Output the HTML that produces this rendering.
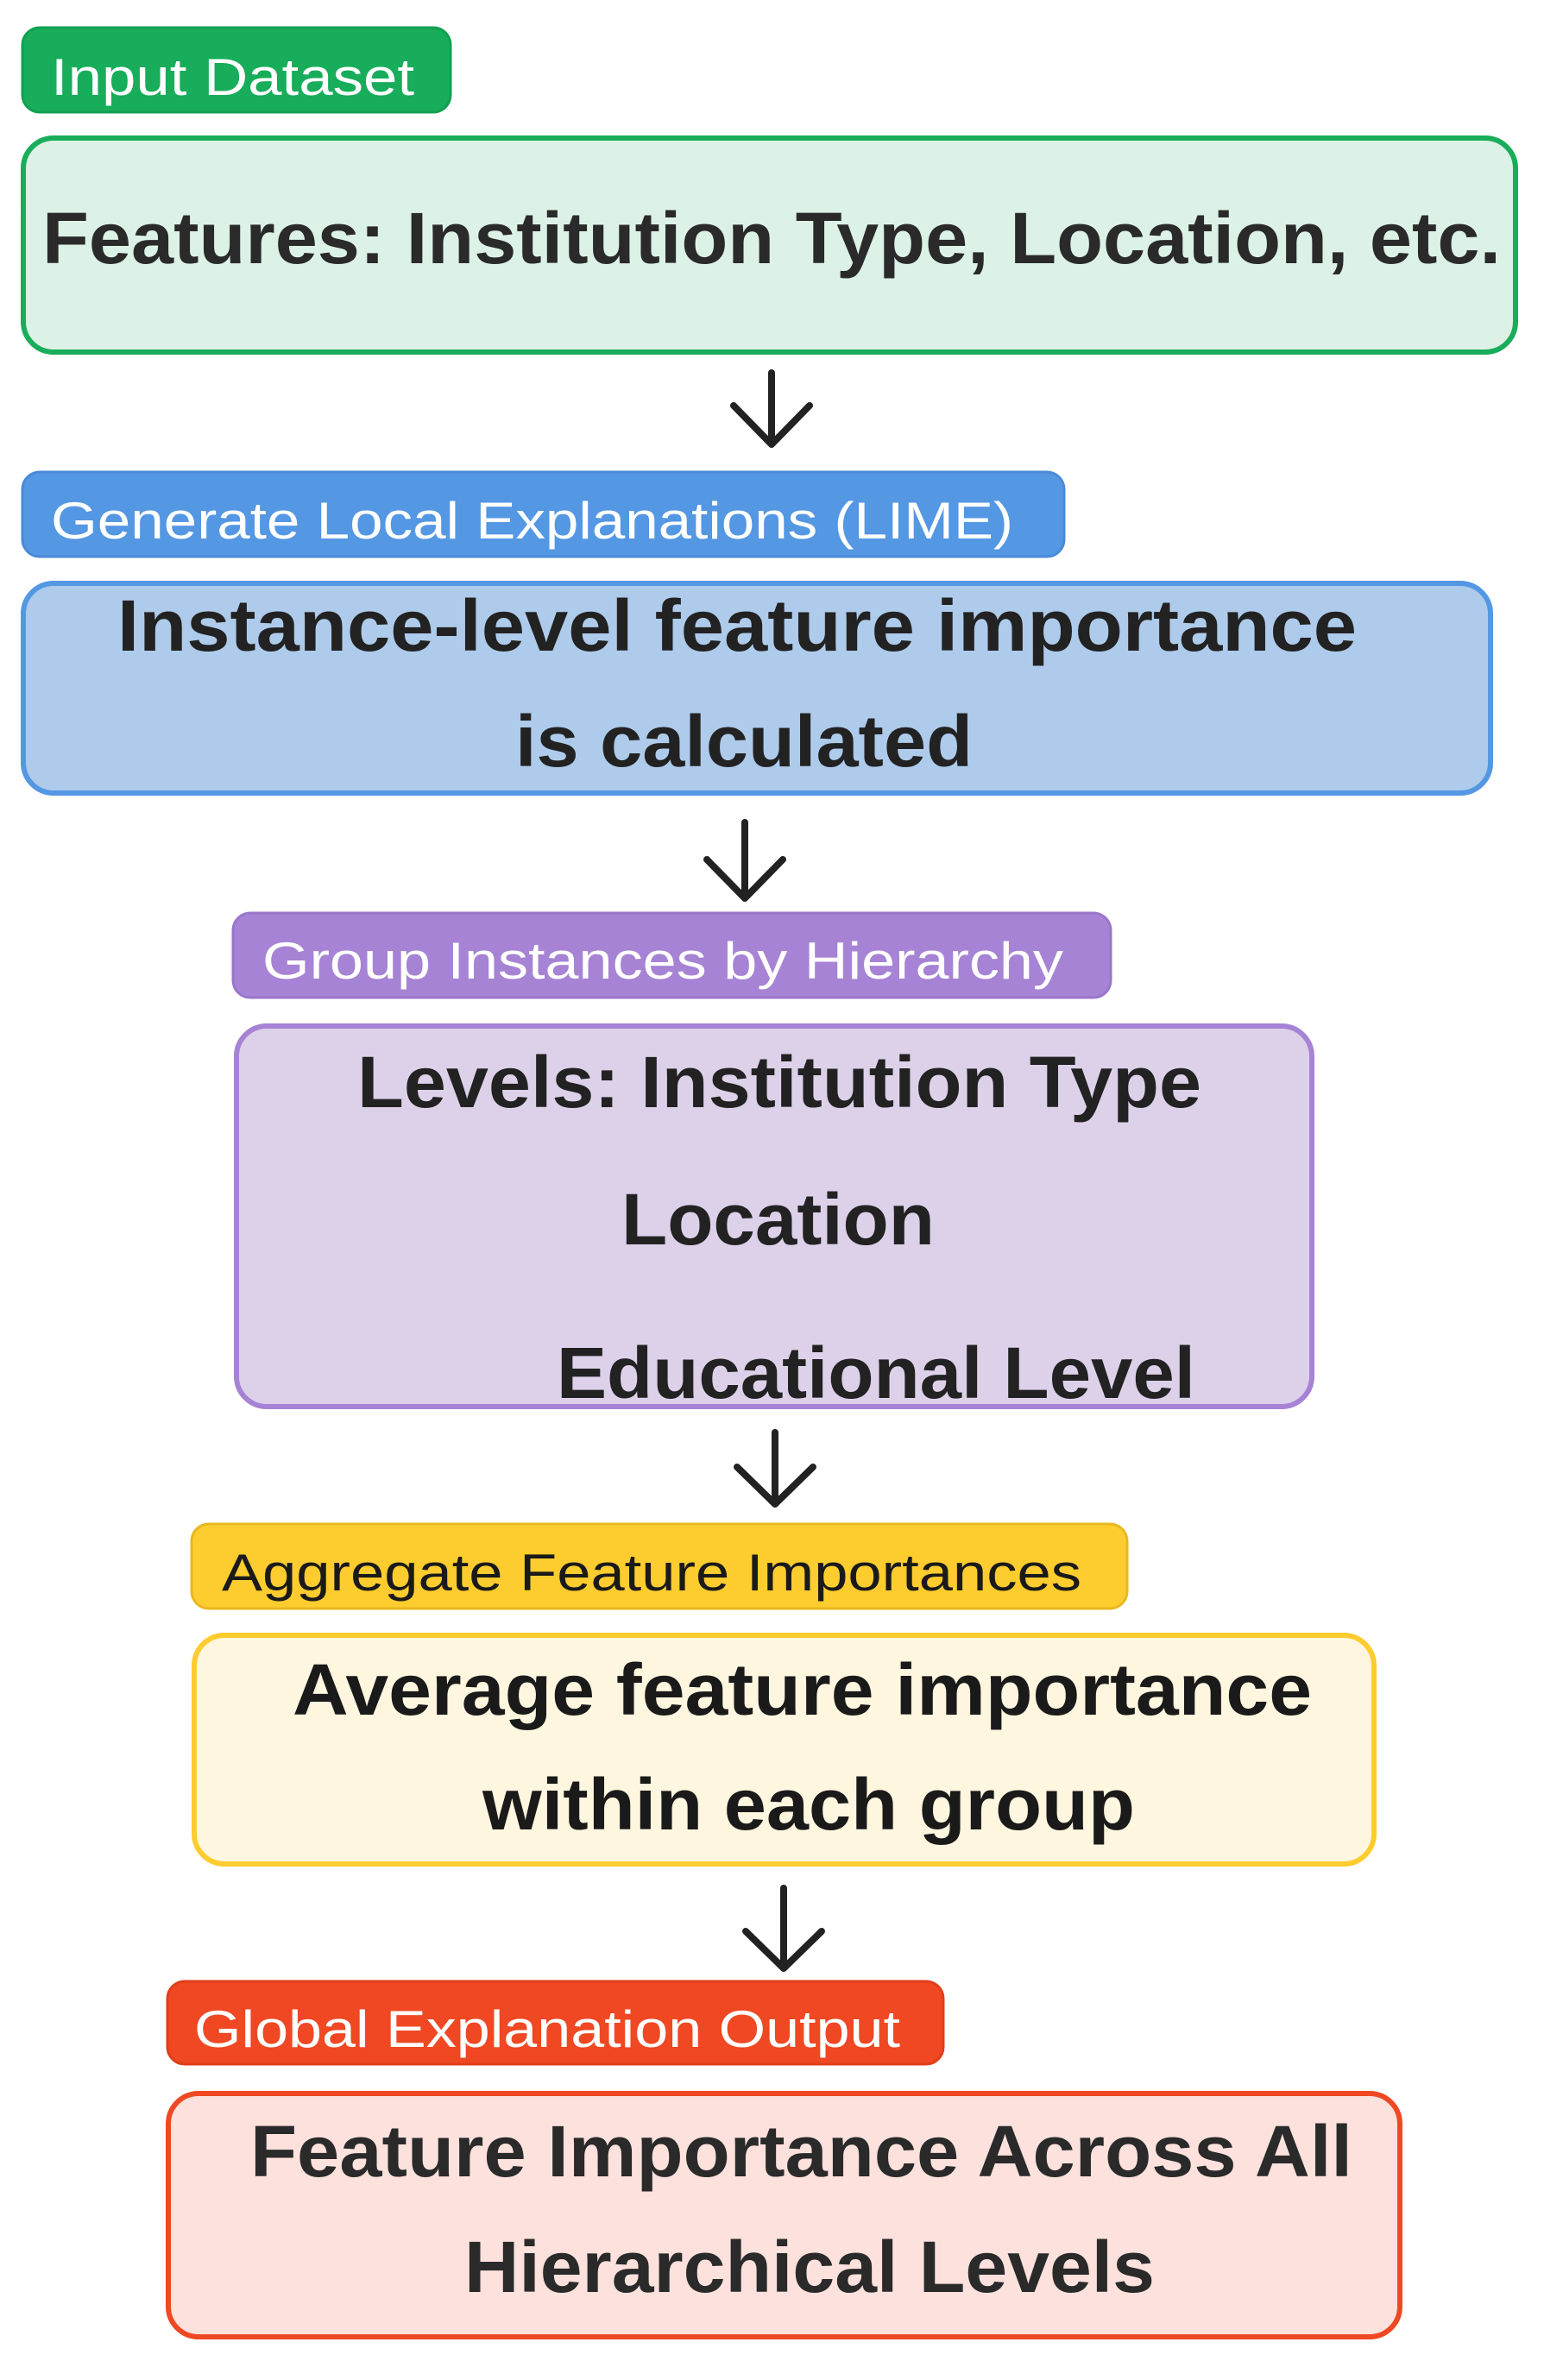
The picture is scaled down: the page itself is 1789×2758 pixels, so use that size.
<!DOCTYPE html>
<html><head><meta charset="utf-8"><style>html,body{margin:0;padding:0;background:#fff}svg{display:block}</style></head>
<body>
<svg width="1789" height="2758" viewBox="0 0 1789 2758" xmlns="http://www.w3.org/2000/svg" font-family="Liberation Sans, sans-serif">
<defs>
<marker id="a" markerWidth="10" markerHeight="10" refX="5" refY="5" orient="auto"></marker>
</defs>
<rect width="1789" height="2758" fill="#fff"/>
<g fill="none" stroke="#222" stroke-width="8" stroke-linecap="round" stroke-linejoin="round">
<path d="M894 432V515M850 470L894 515L938 470"/>
<path d="M863 953V1041M819 996L863 1041L907 996"/>
<path d="M898 1660V1743M854 1700L898 1743L942 1700"/>
<path d="M908 2188V2281M864 2238L908 2281L952 2238"/>
</g>
<g fill="none" stroke="#222" stroke-width="5" stroke-linecap="round" stroke-linejoin="round">
<path d="M900 1295V1354M882 1334L900 1354L918 1334"/>
<path d="M900 1492V1549M882 1529L900 1549L918 1529"/>
</g>
<!-- green -->
<rect x="26" y="32" width="496" height="98" rx="20" fill="#17ad5a" stroke="#12a052" stroke-width="3"/>
<text x="59" y="110" font-size="60" fill="#fff" textLength="421" lengthAdjust="spacingAndGlyphs">Input Dataset</text>
<rect x="27" y="160" width="1729" height="248" rx="35" fill="#dcf2e6" stroke="#19ad5b" stroke-width="6"/>
<text x="49" y="305" font-size="84" font-weight="bold" fill="#2a2a2a" textLength="1690" lengthAdjust="spacingAndGlyphs">Features: Institution Type, Location, etc.</text>
<!-- blue -->
<rect x="26" y="547" width="1207" height="98" rx="20" fill="#5497e3" stroke="#4a8ad8" stroke-width="3"/>
<text x="59" y="624" font-size="60" fill="#fff" textLength="1115" lengthAdjust="spacingAndGlyphs">Generate Local Explanations (LIME)</text>
<rect x="27" y="676" width="1700" height="243" rx="35" fill="#aecbeb" stroke="#5497e3" stroke-width="6"/>
<text x="136" y="754" font-size="84" font-weight="bold" fill="#222" textLength="1436" lengthAdjust="spacingAndGlyphs">Instance-level feature importance</text>
<text x="597" y="888" font-size="84" font-weight="bold" fill="#222" textLength="530" lengthAdjust="spacingAndGlyphs">is calculated</text>
<!-- purple -->
<rect x="270" y="1058" width="1017" height="98" rx="20" fill="#a683d4" stroke="#9a76cb" stroke-width="3"/>
<text x="304" y="1134" font-size="60" fill="#fff" textLength="928" lengthAdjust="spacingAndGlyphs">Group Instances by Hierarchy</text>
<rect x="274" y="1189" width="1246" height="441" rx="35" fill="#ddd1ea" stroke="#a683d4" stroke-width="6"/>
<text x="414" y="1283" font-size="84" font-weight="bold" fill="#222" textLength="978" lengthAdjust="spacingAndGlyphs">Levels: Institution Type</text>
<text x="720" y="1442" font-size="84" font-weight="bold" fill="#222" textLength="363" lengthAdjust="spacingAndGlyphs">Location</text>
<text x="645" y="1620" font-size="84" font-weight="bold" fill="#222" textLength="740" lengthAdjust="spacingAndGlyphs">Educational Level</text>
<!-- yellow -->
<rect x="222" y="1766" width="1084" height="98" rx="20" fill="#fdcc2e" stroke="#e8b820" stroke-width="3"/>
<text x="257" y="1843" font-size="60" fill="#1a1a1a" textLength="996" lengthAdjust="spacingAndGlyphs">Aggregate Feature Importances</text>
<rect x="225" y="1895" width="1367" height="265" rx="35" fill="#fff6df" stroke="#fdcc2e" stroke-width="6"/>
<text x="339" y="1987" font-size="84" font-weight="bold" fill="#1a1a1a" textLength="1181" lengthAdjust="spacingAndGlyphs">Average feature importance</text>
<text x="559" y="2120" font-size="84" font-weight="bold" fill="#1a1a1a" textLength="756" lengthAdjust="spacingAndGlyphs">within each group</text>
<!-- red -->
<rect x="194" y="2296" width="899" height="96" rx="20" fill="#ef4823" stroke="#e03e1a" stroke-width="3"/>
<text x="225" y="2372" font-size="60" fill="#fff" textLength="818" lengthAdjust="spacingAndGlyphs">Global Explanation Output</text>
<rect x="195" y="2426" width="1427" height="282" rx="35" fill="#fde1dd" stroke="#ef4823" stroke-width="6"/>
<text x="290" y="2522" font-size="84" font-weight="bold" fill="#2a2a2a" textLength="1277" lengthAdjust="spacingAndGlyphs">Feature Importance Across All</text>
<text x="538" y="2656" font-size="84" font-weight="bold" fill="#2a2a2a" textLength="800" lengthAdjust="spacingAndGlyphs">Hierarchical Levels</text>
</svg>
</body></html>
